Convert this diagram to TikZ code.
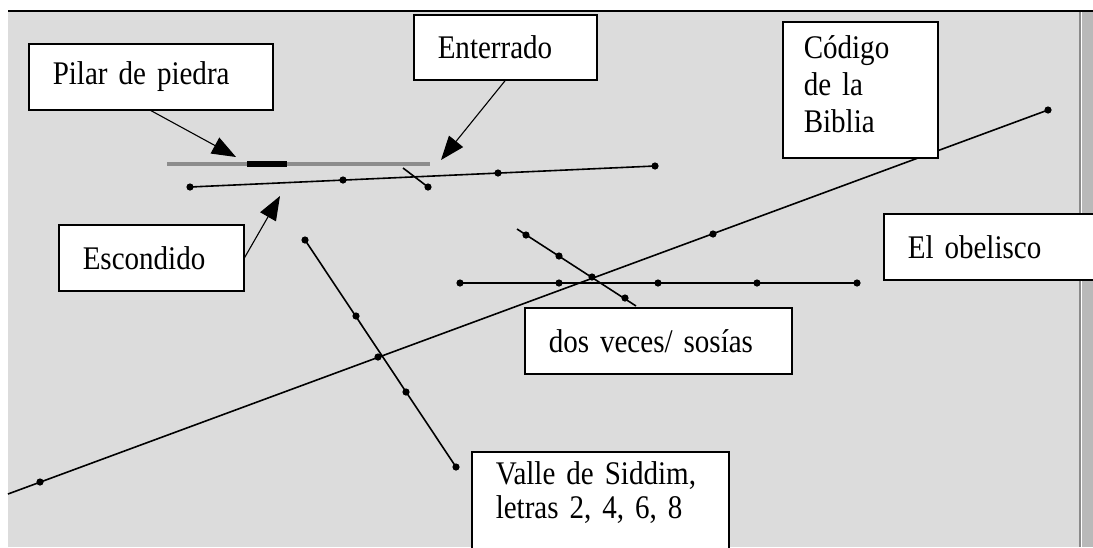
\documentclass[tikz,border=0pt]{standalone}
\usepackage{fontspec}
\setmainfont{Liberation Serif}[FakeStretch=0.88]
\usepackage{xcolor}
\usepackage{tikz}
\usetikzlibrary{arrows.meta}
\definecolor{SheetGray}{HTML}{DCDCDC}
\definecolor{EdgeGray}{HTML}{8A8A8A}
\definecolor{PillarGray}{HTML}{8C8C8C}

\tikzset{
  tag/.style={draw,line width=0.75pt,fill=white,anchor=north west,inner xsep=12pt,inner ysep=0pt,
    align=left,font=\fontsize{16.5}{17}\selectfont},
  els/.style={line width=0.8pt},
  pin/.style={-{Triangle[length=12pt,width=9pt]},line width=0.55pt},
  letter/.style={fill,circle,inner sep=0pt,minimum size=3.6pt}
}

\begin{document}
\begin{tikzpicture}[x=0.5pt,y=-0.5pt]
  \clip (0,0) rectangle (1093,547);
  \fill[white] (0,0) rectangle (1093,547);
  \fill[SheetGray] (8,11) rectangle (1080,547);
  \fill[EdgeGray!60] (1082,11) rectangle (1093,547);
  \draw[EdgeGray,line width=1pt] (1080,11) -- (1080,547);
  \draw[line width=1.3pt] (8,11) -- (1093,11);

  \draw[PillarGray,line width=2pt] (167,164) -- (430,164);
  \draw[line width=2.6pt] (247,164) -- (287,164);

  \coordinate (a1) at (190,187);
  \coordinate (a2) at (343,180);
  \coordinate (a3) at (498,173);
  \coordinate (a4) at (655,166);
  \draw[els] (a1) -- (a4);
  \foreach \p in {a1,a2,a3,a4} \node[letter] at (\p) {};

  \coordinate (m1) at (403,168);
  \coordinate (m2) at (428,187);
  \draw[els] (m1) -- (m2);
  \node[letter] at (m2) {};

  \coordinate (b0) at (8,494);
  \coordinate (b1) at (40,482);
  \coordinate (b2) at (378,357);
  \coordinate (b3) at (713,234);
  \coordinate (b4) at (1048,110);
  \draw[els] (b0) -- (b4);
  \foreach \p in {b1,b2,b3,b4} \node[letter] at (\p) {};

  \coordinate (c1) at (460,283);
  \coordinate (c2) at (559,283);
  \coordinate (c3) at (658,283);
  \coordinate (c4) at (757,283);
  \coordinate (c5) at (857,283);
  \draw[els] (c1) -- (c5);
  \foreach \p in {c1,c2,c3,c4,c5} \node[letter] at (\p) {};

  \coordinate (d0) at (517,229);
  \coordinate (d1) at (526,235);
  \coordinate (d2) at (559,256);
  \coordinate (d3) at (592,277);
  \coordinate (d4) at (625,298);
  \coordinate (d5) at (636,306);
  \draw[els] (d0) -- (d5);
  \foreach \p in {d1,d2,d3,d4} \node[letter] at (\p) {};

  \coordinate (e1) at (305,240);
  \coordinate (e2) at (356,316);
  \coordinate (e3) at (406,392);
  \coordinate (e4) at (456,467);
  \draw[els] (e1) -- (e4);
  \foreach \p in {e1,e2,e3,e4} \node[letter] at (\p) {};

  \node[tag,text width=98pt,minimum height=33pt] (pilar) at (28,43) {Pilar de piedra};
  \node[tag,text width=67.5pt,minimum height=32.5pt] (enterrado) at (413,14) {Enterrado};
  \node[tag,text width=56.5pt,inner xsep=10.5pt,text height=18.5pt,text depth=49.5pt] (codigo) at (782,21)
    {Código\\[1.5pt]de la\\[1.5pt]Biblia};
  \node[tag,text width=85pt,minimum height=33pt] (obelisco) at (883,213) {El obelisco};
  \node[tag,text width=68.5pt,minimum height=33pt] (escondido) at (58,224) {Escondido};
  \node[tag,text width=109.5pt,minimum height=33pt] (dosveces) at (524,307) {dos veces/ sosías};
  \node[tag,text width=104.5pt,inner ysep=5pt,text depth=40pt] (valle) at (471,451)
    {Valle de Siddim,\\letras 2, 4, 6, 8};

  \coordinate (pilartip) at (236,157);
  \coordinate (enterradotip) at (441,160);
  \coordinate (escondidotip) at (280,196);
  \draw[pin] (pilar.south) -- (pilartip);
  \draw[pin] (enterrado.south) -- (enterradotip);
  \draw[pin] (escondido.east) -- (escondidotip);
\end{tikzpicture}
\end{document}
